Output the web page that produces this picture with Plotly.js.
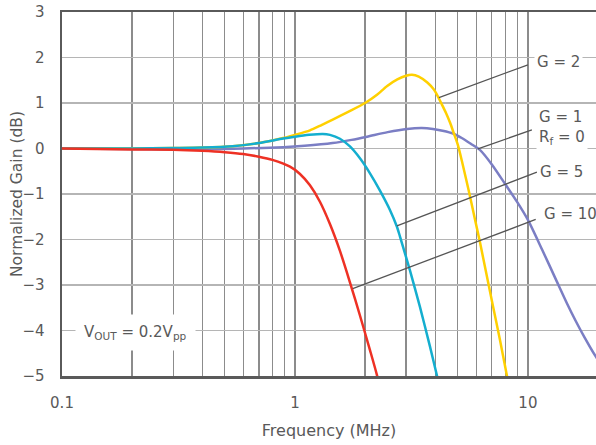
<!DOCTYPE html>
<html>
<head>
<meta charset="utf-8">
<script src="https://cdn.plot.ly/plotly-3.0.1.min.js"></script>
<style>html,body{margin:0;padding:0;background:#fff;}#chart{width:596px;height:445px;}</style>
</head>
<body>
<div id="chart"></div>
<script>
// ---- data (frequency in MHz, normalized gain in dB) ----
var g1Freq = [0.1, 0.2, 0.3, 0.4, 0.6, 0.89, 1.1, 1.45, 1.75, 2.04, 2.5, 3.03, 3.5, 3.91, 4.3, 4.77, 5.2, 5.7, 6.22, 7.0, 7.96, 9.0, 10.0, 11.5, 13.3, 14.7, 16.0, 17.5, 19.6, 21];
var g1Gain = [0, -0.01, -0.02, -0.02, 0.0, 0.03, 0.06, 0.12, 0.19, 0.26, 0.36, 0.43, 0.45, 0.43, 0.39, 0.33, 0.23, 0.1, -0.03, -0.35, -0.77, -1.18, -1.57, -2.22, -2.92, -3.4, -3.78, -4.15, -4.58, -4.8];

var g2Freq = [0.1, 0.2, 0.3, 0.4, 0.54, 0.7, 0.89, 1.0, 1.16, 1.3, 1.46, 1.7, 2.0, 2.25, 2.48, 2.75, 3.0, 3.18, 3.4, 3.7, 3.94, 4.11, 4.27, 4.45, 4.63, 4.81, 5.01, 5.21, 5.42, 5.64, 5.92, 6.22, 6.6, 7.07, 7.58, 8.13, 8.4];
var g2Gain = [0, 0.0, 0.01, 0.02, 0.05, 0.12, 0.23, 0.3, 0.40, 0.516, 0.64, 0.81, 1.0, 1.18, 1.37, 1.52, 1.6, 1.62, 1.58, 1.45, 1.3, 1.14, 0.97, 0.78, 0.57, 0.33, 0.07, -0.28, -0.66, -1.05, -1.55, -2.05, -2.7, -3.45, -4.2, -5.0, -5.4];

var g5Freq = [0.1, 0.2, 0.3, 0.4, 0.54, 0.7, 0.89, 1.0, 1.15, 1.316, 1.413, 1.56, 1.722, 1.901, 2.099, 2.317, 2.557, 2.74, 2.822, 3.116, 3.44, 3.797, 4.03, 4.2];
var g5Gain = [0, 0.0, 0.01, 0.02, 0.05, 0.12, 0.22, 0.26, 0.3, 0.32, 0.3, 0.215, 0.045, -0.215, -0.545, -0.925, -1.35, -1.72, -1.93, -2.68, -3.48, -4.35, -4.9, -5.3];

var g10Freq = [0.1, 0.2, 0.3, 0.4, 0.5, 0.6, 0.7, 0.8, 0.952, 1.051, 1.16, 1.28, 1.413, 1.56, 1.722, 1.901, 2.099, 2.249, 2.35];
var g10Gain = [0, -0.02, -0.03, -0.05, -0.08, -0.12, -0.18, -0.25, -0.40, -0.56, -0.81, -1.17, -1.66, -2.25, -2.94, -3.67, -4.43, -4.98, -5.4];

// x-axis grid / tick labels
var xTickVals = [0.1, 0.2, 0.3, 0.4, 0.5, 0.6, 0.7, 0.8, 0.9, 1, 2, 3, 4, 5, 6, 7, 8, 9, 10];
var xTickText = ['0.1', '', '', '', '', '', '', '', '', '1', '', '', '', '', '', '', '', '', '10'];
var yTickVals = [-5, -4, -3, -2, -1, 0, 1, 2, 3];

// curve labels: text, leader start on curve (freq, gain), leader end (freq, gain), text position (freq, gain)
var labelText  = ['G = 2', 'G = 1<br>R<sub>f</sub> = 0', 'G = 5', 'G = 10'];
var labelHeadF = [4.15, 6.1, 2.74, 1.77];
var labelHeadG = [1.12, -0.01, -1.70, -3.08];
var labelTailF = [10.0, 10.4, 10.93, 10.8];
var labelTailG = [1.84, 0.41, -0.52, -1.56];
var labelTextF = [10.6, 10.8, 10.93, 11.37];
var labelTextG = [1.91, 0.47, -0.51, -1.44];

var noteText = 'V<sub>OUT</sub> = 0.2V<sub>pp</sub>';
var noteF = 0.2077, noteG = -4.05;

var FONT = 'DejaVu Sans, Verdana, sans-serif';
var TXT = '#595959';

function tr(x, y, color) {
  return {x: x, y: y, type: 'scatter', mode: 'lines', hoverinfo: 'skip',
          line: {color: color, width: 2.5, shape: 'spline', smoothing: 0.7}};
}
var data = [
  tr(g1Freq, g1Gain, '#7B7EC4'),
  tr(g2Freq, g2Gain, '#FFD000'),
  tr(g5Freq, g5Gain, '#14AECF'),
  tr(g10Freq, g10Gain, '#EE3124')
];

var lg = Math.log10;
var shapes = [], annotations = [];
for (var i = 0; i < labelText.length; i++) {
  shapes.push({type: 'line', xref: 'x', yref: 'y', layer: 'above',
    x0: labelHeadF[i], y0: labelHeadG[i], x1: labelTailF[i], y1: labelTailG[i],
    line: {color: '#555555', width: 1.3}});
  annotations.push({xref: 'x', yref: 'y', x: lg(labelTextF[i]), y: labelTextG[i],
    text: labelText[i], showarrow: false, xanchor: 'left', yanchor: 'middle', align: 'left',
    bgcolor: '#ffffff', borderpad: 2, font: {family: FONT, size: 15, color: TXT}});
}
annotations.push({xref: 'x', yref: 'y', x: lg(noteF), y: noteG, text: noteText, showarrow: false,
  xanchor: 'center', yanchor: 'middle', bgcolor: '#ffffff', borderpad: 8,
  font: {family: FONT, size: 15, color: TXT}});
// y-axis title
annotations.push({xref: 'paper', yref: 'paper', x: (17 - 62) / 534, y: 0.5, xanchor: 'center', yanchor: 'middle',
  text: 'Normalized Gain (dB)', textangle: -90, showarrow: false,
  font: {family: FONT, size: 15.5, color: TXT}});

var layout = {
  width: 596, height: 445,
  margin: {l: 62, r: 0, t: 12, b: 69},
  paper_bgcolor: '#ffffff', plot_bgcolor: '#ffffff',
  showlegend: false,
  font: {family: FONT, color: TXT},
  xaxis: {
    type: 'log', range: [-1, lg(19.6)],
    tickmode: 'array', tickvals: xTickVals, ticktext: xTickText, tickangle: 0,
    showgrid: true, gridcolor: '#8c8c8c', gridwidth: 1.3,
    showline: true, linecolor: '#5a5a5a', linewidth: 2.5, mirror: true,
    ticks: '', ticklabelstandoff: 11, zeroline: false,
    tickfont: {family: FONT, size: 15, color: TXT},
    title: {text: 'Frequency (MHz)', font: {family: FONT, size: 16, color: TXT}, standoff: 15}
  },
  yaxis: {
    range: [-5, 3], tickmode: 'array', tickvals: yTickVals,
    showgrid: true, gridcolor: '#b5b5b5', gridwidth: 1.8,
    showline: true, linecolor: '#5a5a5a', linewidth: 2.5, mirror: false,
    ticks: '', ticklabelstandoff: 12, zeroline: false,
    tickfont: {family: FONT, size: 15, color: TXT}
  },
  shapes: shapes,
  annotations: annotations
};

Plotly.newPlot('chart', data, layout, {displayModeBar: false, staticPlot: true});
</script>
</body>
</html>
